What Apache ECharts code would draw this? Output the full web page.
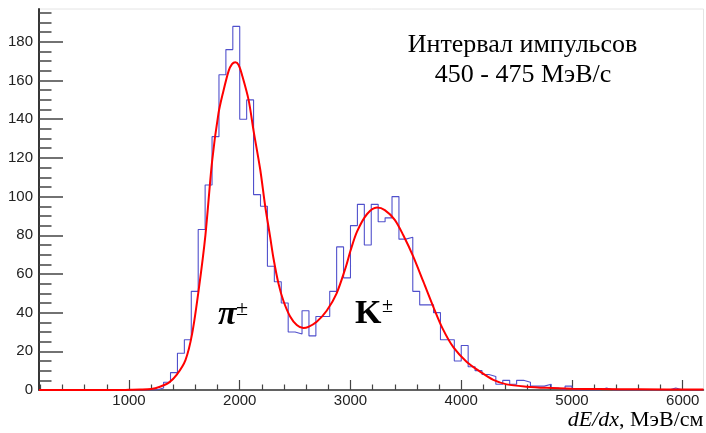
<!DOCTYPE html>
<html>
<head>
<meta charset="utf-8">
<script src="https://cdn.jsdelivr.net/npm/echarts@6/dist/echarts.min.js"></script>
<style>
  html, body { margin: 0; padding: 0; background: #ffffff; }
  #chart { width: 706px; height: 433px; }
</style>
</head>
<body>
<div id="chart"></div>
<script>
// dE/dx spectrum for the 450-475 MeV/c momentum slice, 62.5 MeV/cm bins
const binLow = 187.5;
const binWidth = 62.5;
const counts = [
  0, 0, 0, 0, 0, 0, 0, 0, 0, 0, 0, 0, 0, 0, 0, 0,
  0, 1, 4, 9, 19, 26, 51, 83, 106, 131, 163, 176, 188, 140, 150, 101,
  95, 64, 56, 45, 30, 29, 41, 28, 38, 38, 51, 74, 58, 85, 96, 75,
  96, 87, 89, 100, 78, 79, 51, 44, 44, 40, 26, 26, 15, 23, 12, 10,
  8, 7, 3, 5, 3, 5, 4, 2, 2, 3, 1, 0, 2, 0, 0, 0,
  0, 1, 0, 0, 0, 0, 0, 0, 0, 0, 0, 1, 0, 0, 0, 0
];

// Two-peak fit (pi and K), sampled along dE/dx
const fitX = [187.5, 900, 1000, 1100, 1200, 1280, 1360, 1430, 1510, 1570, 1630, 1690,
  1750, 1808, 1850, 1900, 1930, 1960, 1990, 2020, 2080, 2125, 2185, 2230, 2275, 2305,
  2350, 2395, 2455, 2515, 2575, 2620, 2695, 2785, 2875, 2960, 3000, 3060, 3150, 3240,
  3310, 3400, 3477, 3567, 3658, 3748, 3830, 3930, 4050, 4170, 4290, 4410, 4590, 4770,
  5000, 5250, 5600, 6187.5];
const fitY = [0, 0, 0.1, 0.2, 0.5, 1.7, 3.8, 7.8, 15.5, 29, 52, 80,
  118, 143, 154, 165, 168.5, 169.5, 168, 163, 150, 134, 114, 95, 79, 68,
  55, 46, 38, 33.6, 32, 32.6, 35.3, 41, 50, 64, 72, 82, 91, 94.3,
  93, 88, 80, 69, 56, 43, 32, 22, 14.5, 9.5, 5.2, 2.9, 1.7, 1.1,
  0.7, 0.5, 0.35, 0.25];

const xTicks = [1000, 2000, 3000, 4000, 5000, 6000];
const yTicks = [0, 20, 40, 60, 80, 100, 120, 140, 160, 180];
const xMinorStep = 200;
const yMinorStep = 5;
const yMax = 197;

const binHigh = binLow + binWidth * counts.length;

// step outline: each bin starts at its low edge, closing point at the upper edge
const histData = counts.map((c, i) => [binLow + i * binWidth, c]);
histData.push([binHigh, counts[counts.length - 1]]);

const fitData = fitX.map((x, i) => [x, fitY[i]]);

const xMinor = [];
for (let v = 200; v < binHigh; v += xMinorStep) if (v % 1000 !== 0) xMinor.push(v);
const yMinor = [];
for (let v = yMinorStep; v < yMax; v += yMinorStep) if (v % 20 !== 0) yMinor.push(v);

const axisColor = '#333';
const tickColor = '#444';
const labelFont = { fontFamily: 'Liberation Sans', fontSize: 15, color: '#222' };
const plain = v => String(v);

const chart = echarts.init(document.getElementById('chart'), null, { renderer: 'canvas' });
chart.setOption({
  animation: false,
  backgroundColor: '#ffffff',
  grid: {
    left: 39, right: 2.5, top: 9, bottom: 43,
    show: true, borderColor: '#e4e4e4', borderWidth: 1, backgroundColor: 'transparent'
  },
  xAxis: [
    {
      type: 'value', min: binLow, max: binHigh, position: 'bottom',
      axisLine: { show: true, onZero: false, lineStyle: { color: axisColor, width: 1.5 } },
      axisTick: { show: true, inside: true, length: 10, customValues: xTicks,
        lineStyle: { color: tickColor, width: 1.2 } },
      axisLabel: Object.assign({ show: true, margin: 3, customValues: xTicks, formatter: plain }, labelFont),
      splitLine: { show: false }
    },
    {
      type: 'value', min: binLow, max: binHigh, position: 'bottom',
      axisLine: { show: false },
      axisTick: { show: true, inside: true, length: 5.5, customValues: xMinor,
        lineStyle: { color: tickColor, width: 1.2 } },
      axisLabel: { show: false },
      splitLine: { show: false }
    }
  ],
  yAxis: [
    {
      type: 'value', min: 0, max: yMax, position: 'left',
      axisLine: { show: true, onZero: false, lineStyle: { color: '#222', width: 1.8 } },
      axisTick: { show: true, inside: true, length: 24, customValues: yTicks,
        lineStyle: { color: tickColor, width: 1.5 } },
      axisLabel: Object.assign({ show: true, margin: 6, customValues: yTicks, formatter: plain }, labelFont),
      splitLine: { show: false }
    },
    {
      type: 'value', min: 0, max: yMax, position: 'left',
      axisLine: { show: false },
      axisTick: { show: true, inside: true, length: 12.5, customValues: yMinor,
        lineStyle: { color: tickColor, width: 1.5 } },
      axisLabel: { show: false },
      splitLine: { show: false }
    }
  ],
  series: [
    {
      name: 'hist', type: 'line', xAxisIndex: 0, yAxisIndex: 0,
      data: histData, step: 'end', symbol: 'none',
      lineStyle: { color: '#5050cc', width: 1.1 },
      z: 2
    },
    {
      name: 'fit', type: 'line', xAxisIndex: 0, yAxisIndex: 0,
      data: fitData, smooth: 0.3, symbol: 'none',
      lineStyle: { color: '#ff0000', width: 2 },
      z: 3
    }
  ],
  graphic: [
    { type: 'text', x: 522.5, y: 44.7, style: { text: 'Интервал импульсов',
      font: '26px "Liberation Serif"', fill: '#000', align: 'center', verticalAlign: 'middle' } },
    { type: 'text', x: 523, y: 74.7, style: { text: '450 - 475 МэВ/с',
      font: '26px "Liberation Serif"', fill: '#000', align: 'center', verticalAlign: 'middle' } },
    { type: 'text', x: 218, y: 315.5, style: { text: 'π',
      font: 'italic bold 34px "Liberation Serif"', fill: '#000', align: 'left', verticalAlign: 'middle' } },
    { type: 'text', x: 236, y: 309.3, style: { text: '±',
      font: '22px "Liberation Serif"', fill: '#000', align: 'left', verticalAlign: 'middle' } },
    { type: 'text', x: 355, y: 313.8, style: { text: 'K',
      font: 'bold 34px "Liberation Serif"', fill: '#000', align: 'left', verticalAlign: 'middle' } },
    { type: 'text', x: 382, y: 307, style: { text: '±',
      font: '20px "Liberation Serif"', fill: '#000', align: 'left', verticalAlign: 'middle' } },
    { type: 'text', x: 703.5, y: 420.7, style: {
      text: '{i|dE/dx}{n|, МэВ/см}', align: 'right', verticalAlign: 'middle',
      rich: {
        i: { font: 'italic 22px "Liberation Serif"', fill: '#000' },
        n: { font: '22px "Liberation Serif"', fill: '#000' }
      } } }
  ]
});
</script>
</body>
</html>
